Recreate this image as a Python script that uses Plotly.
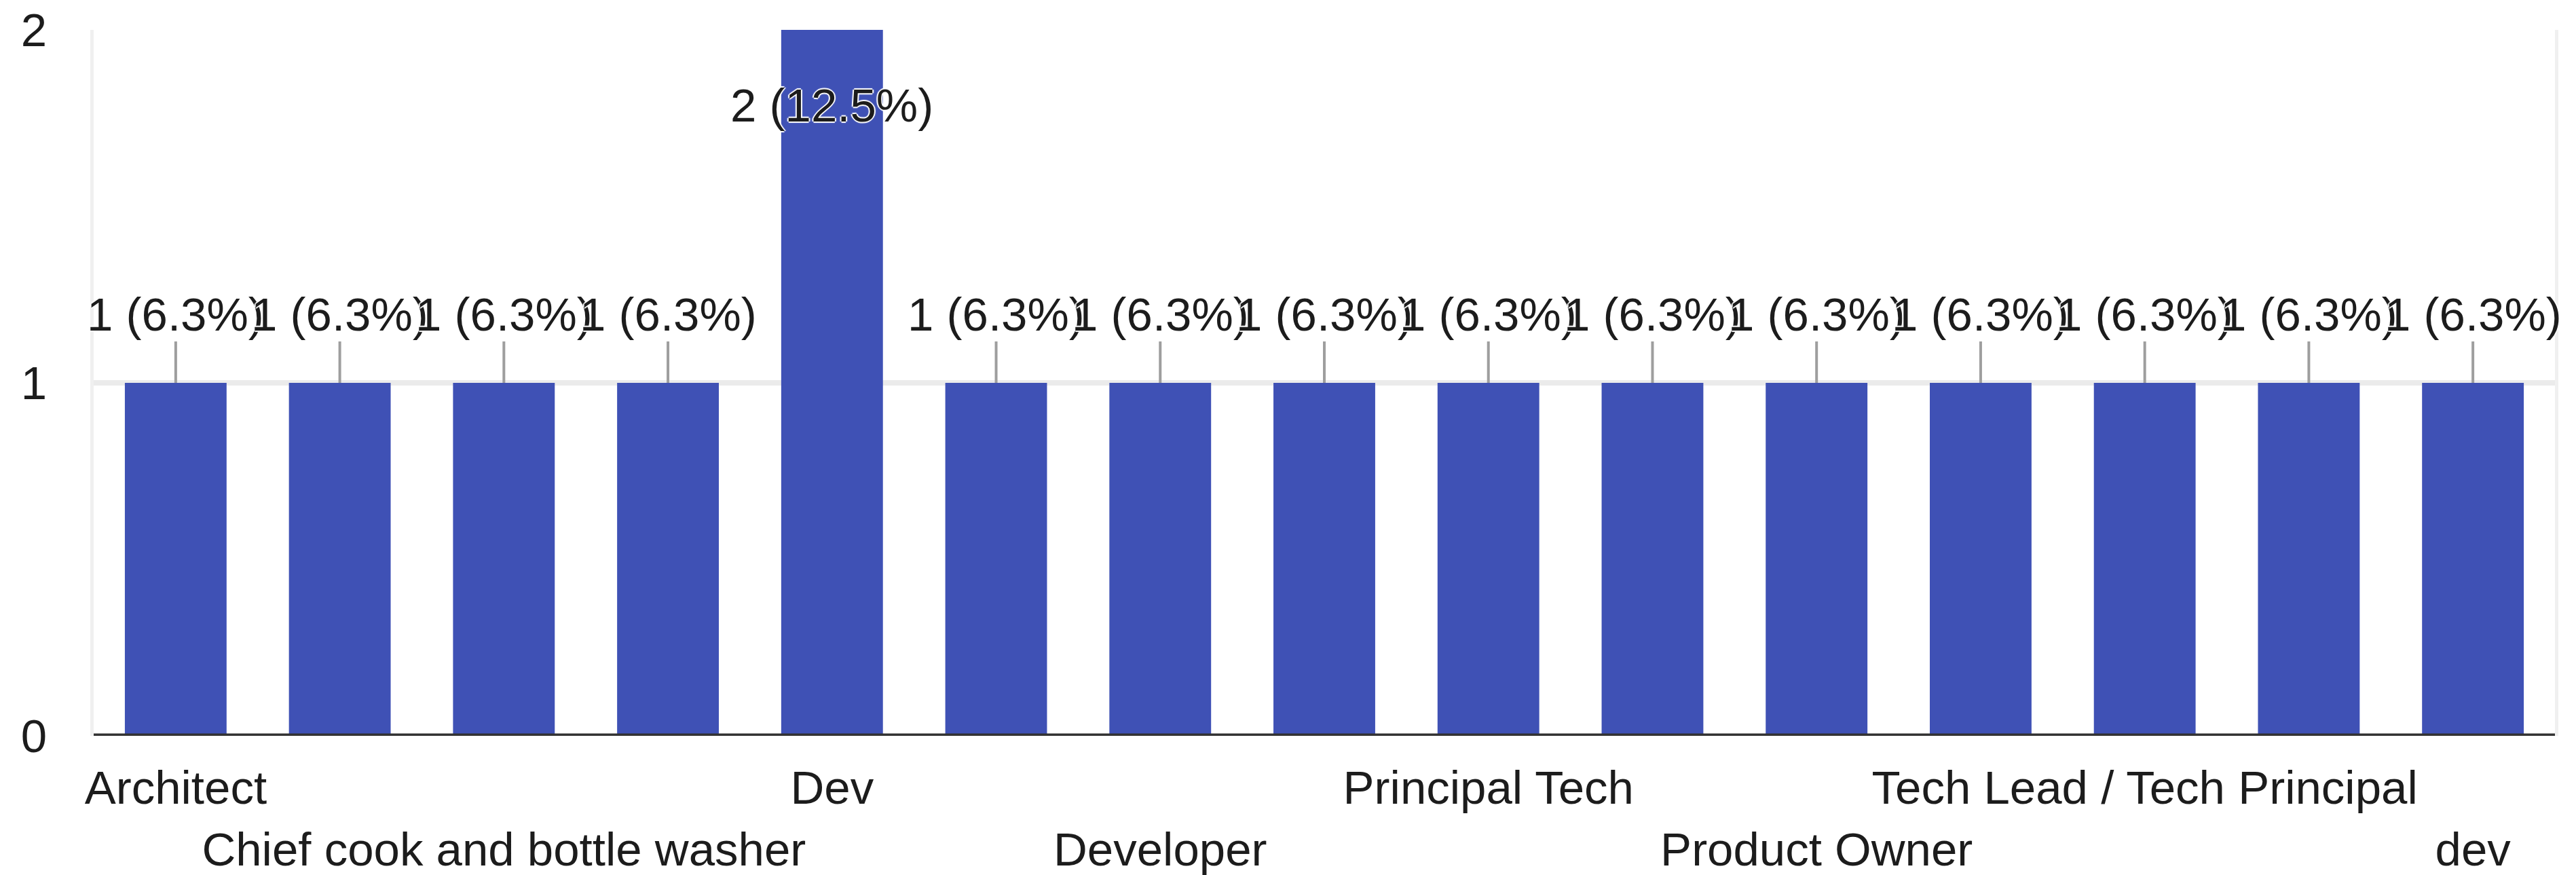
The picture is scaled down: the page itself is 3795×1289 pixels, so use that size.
from decimal import Decimal, ROUND_HALF_UP

import plotly.graph_objects as go

# Survey answers (sorted the way the form summary sorts them) and their counts
roles = [
    "Architect",
    "CTO",
    "Chief cook and bottle washer",
    "Consultant",
    "Dev",
    "Dev Lead",
    "Developer",
    "Engineering Manager",
    "Principal Tech",
    "Product Manager",
    "Product Owner",
    "Software Engineer",
    "Tech Lead / Tech Principal",
    "Technical Architect",
    "dev",
]
counts = [1, 1, 1, 1, 2, 1, 1, 1, 1, 1, 1, 1, 1, 1, 1]

# Category labels are staggered over two rows; the rest are skipped
labels_row_top = ["Architect", "Dev", "Principal Tech", "Tech Lead / Tech Principal"]
labels_row_bottom = ["Chief cook and bottle washer", "Developer", "Product Owner", "dev"]

y_ticks = [0, 1, 2]

FONT = "Liberation Sans, Arial, Helvetica, sans-serif"
TEXT = "#1c1c1c"
BAR = "#3f51b5"
SIZE = 69

total = sum(counts)


def pct(n):
    value = Decimal(n) * 100 / Decimal(total)
    return value.quantize(Decimal("0.1"), rounding=ROUND_HALF_UP)


fig = go.Figure()
fig.add_bar(
    x=roles,
    y=counts,
    marker=dict(color=BAR, line=dict(width=0)),
    hoverinfo="skip",
    showlegend=False,
)
# carrier for the second row of category labels
fig.add_scatter(
    x=roles,
    y=counts,
    xaxis="x2",
    mode="markers",
    marker=dict(opacity=0),
    hoverinfo="skip",
    showlegend=False,
)

top = max(y_ticks)
halo = "white 2px 0px 1px, white -2px 0px 1px, white 0px 2px 1px, white 0px -2px 1px"
annotations = []
for role, n in zip(roles, counts):
    inside = n >= top
    annotations.append(
        dict(
            x=role,
            y=n,
            xref="x",
            yref="y",
            text=f"{n} ({pct(n)}%)",
            showarrow=True,
            arrowhead=0,
            arrowwidth=4,
            arrowcolor="#9e9e9e",
            standoff=0,
            startstandoff=0,
            ax=0,
            ay=111 if inside else -101,
            font=dict(family=FONT, size=SIZE, color=TEXT, shadow=halo),
        )
    )

# baseline under the bars
shapes = [
    dict(
        type="line",
        xref="paper",
        x0=0,
        x1=1,
        yref="y",
        y0=0,
        y1=0,
        line=dict(color="#333333", width=7),
        layer="above",
    )
]

tick_font = dict(family=FONT, size=SIZE, color=TEXT)
xcommon = dict(
    type="category",
    categoryorder="array",
    categoryarray=roles,
    range=[-0.5, len(roles) - 0.5],
    showgrid=False,
    zeroline=False,
    showline=False,
    ticks="",
    tickmode="array",
    tickfont=tick_font,
    fixedrange=True,
    automargin=False,
)

fig.update_layout(
    width=3795,
    height=1289,
    margin=dict(l=138, r=31, t=44, b=205, autoexpand=False),
    paper_bgcolor="white",
    plot_bgcolor="white",
    bargap=0.38,
    font=dict(family=FONT, color=TEXT),
    xaxis=dict(
        **xcommon,
        tickvals=labels_row_top,
        ticktext=labels_row_top,
        ticklabelstandoff=30,
    ),
    xaxis2=dict(
        **xcommon,
        overlaying="x",
        matches="x",
        anchor="y",
        side="bottom",
        tickvals=labels_row_bottom,
        ticktext=labels_row_bottom,
        ticklabelstandoff=121,
    ),
    yaxis=dict(
        range=[0, top],
        tickmode="array",
        tickvals=y_ticks,
        ticktext=[str(v) for v in y_ticks],
        showgrid=True,
        gridcolor="#ebebeb",
        gridwidth=8,
        zeroline=False,
        showline=True,
        mirror=True,
        linecolor="#f0f0f0",
        linewidth=5,
        ticks="",
        tickfont=tick_font,
        ticklabelstandoff=50,
        fixedrange=True,
        automargin=False,
    ),
    annotations=annotations,
    shapes=shapes,
    showlegend=False,
)

fig.write_html("out.html")
